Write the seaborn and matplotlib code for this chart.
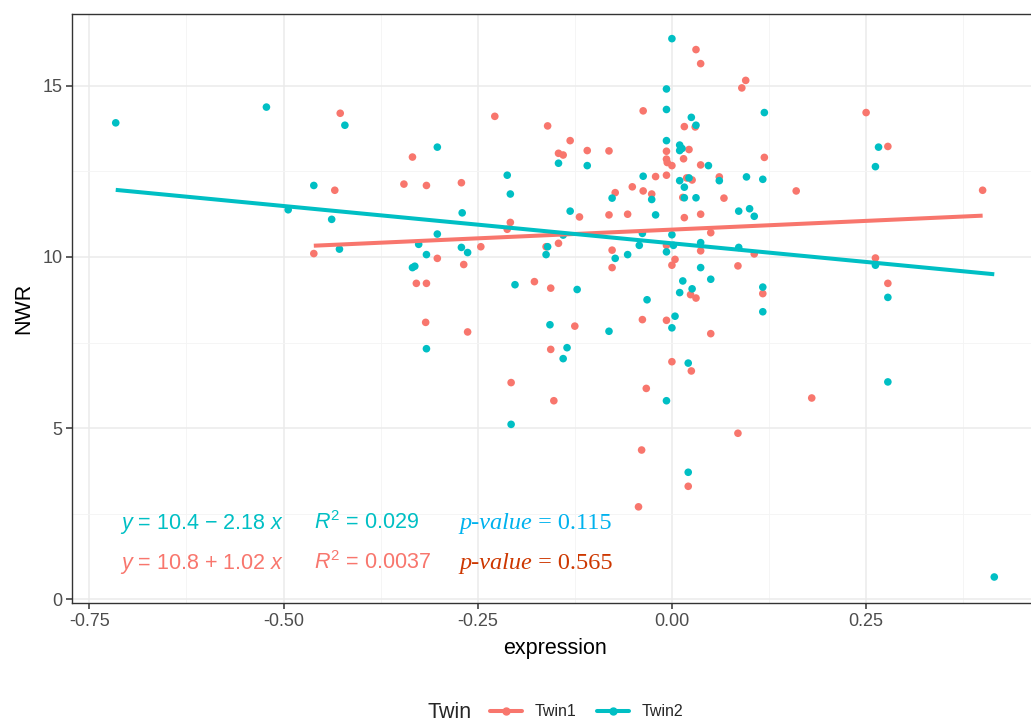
import matplotlib
matplotlib.use('Agg')
import matplotlib.pyplot as plt
from matplotlib.lines import Line2D
import pandas as pd
import seaborn as sns

# Twin1 (red) points
twin1_x = [-0.427, -0.434, -0.461, 0.031, 0.037, -0.037, -0.228, 0.016, 0.030, -0.160,
           -0.131, -0.334, -0.146, -0.140, -0.109, -0.081, -0.007, -0.007, -0.006, 0.000,
           0.022, 0.015, 0.037, -0.007, -0.345, -0.316, -0.271, -0.021, 0.019, 0.026,
           -0.073, -0.051, -0.037, -0.026, 0.014, -0.119, -0.081, -0.057, 0.016, 0.037,
           -0.208, -0.212, 0.050, -0.246, -0.162, -0.146, -0.302, -0.007, 0.037, -0.077,
           0.004, 0.000, -0.268, -0.077, -0.329, -0.316, -0.177, -0.156, 0.024, 0.031,
           0.095, 0.090, 0.250, 0.278, 0.119, 0.061, 0.160, 0.400, 0.067, 0.106,
           0.262, 0.085, 0.117, 0.278, -0.317, -0.263, -0.125, -0.038, -0.007, 0.050,
           -0.156, 0.000, 0.025, -0.207, -0.033, -0.152, -0.039, 0.021, -0.043, 0.085,
           0.180]
twin1_y = [14.20, 11.95, 10.10, 16.06, 15.65, 14.27, 14.11, 13.81, 13.80, 13.83,
           13.40, 12.92, 13.03, 12.98, 13.11, 13.10, 13.09, 12.86, 12.76, 12.67,
           13.14, 12.87, 12.69, 12.39, 12.13, 12.09, 12.17, 12.35, 12.31, 12.25,
           11.88, 12.05, 11.93, 11.84, 11.74, 11.17, 11.23, 11.25, 11.15, 11.25,
           11.01, 10.81, 10.71, 10.30, 10.30, 10.40, 9.96, 10.34, 10.18, 10.20,
           9.93, 9.76, 9.78, 9.69, 9.23, 9.23, 9.28, 9.09, 8.90, 8.80,
           15.16, 14.94, 14.22, 13.23, 12.91, 12.34, 11.93, 11.95, 11.72, 10.09,
           9.97, 9.74, 8.93, 9.23, 8.09, 7.81, 7.98, 8.17, 8.15, 7.76,
           7.30, 6.94, 6.67, 6.33, 6.16, 5.80, 4.36, 3.30, 2.70, 4.85,
           5.88]

# Twin2 (teal) points
twin2_x = [-0.716, -0.522, -0.421, -0.461, -0.494, -0.438, -0.428, 0.000, -0.007, -0.007,
           0.025, 0.031, -0.302, -0.146, -0.109, -0.007, 0.010, 0.013, 0.010, 0.047,
           -0.037, -0.212, -0.208, 0.010, 0.022, 0.016, -0.077, -0.026, 0.016, 0.031,
           -0.131, -0.270, -0.021, -0.302, -0.140, -0.038, 0.000, -0.326, -0.160, -0.271,
           -0.263, -0.316, -0.162, -0.042, 0.002, -0.007, 0.037, -0.073, -0.057, -0.331,
           -0.334, 0.037, 0.050, -0.202, -0.122, 0.014, 0.026, 0.010, -0.032, 0.119,
           0.266, 0.262, 0.061, 0.096, 0.117, 0.086, 0.100, 0.106, 0.086, 0.262,
           0.117, 0.278, 0.117, -0.316, -0.157, -0.081, 0.004, 0.000, -0.135, -0.140,
           0.021, -0.007, -0.207, 0.021, 0.278, 0.415]
twin2_y = [13.92, 14.38, 13.85, 12.09, 11.38, 11.10, 10.23, 16.38, 14.91, 14.31,
           14.08, 13.85, 13.21, 12.74, 12.67, 13.40, 13.27, 13.17, 13.11, 12.67,
           12.36, 12.39, 11.84, 12.23, 12.31, 12.04, 11.72, 11.68, 11.73, 11.73,
           11.34, 11.29, 11.23, 10.67, 10.64, 10.69, 10.65, 10.37, 10.30, 10.28,
           10.13, 10.07, 10.07, 10.34, 10.34, 10.15, 10.42, 9.96, 10.07, 9.73,
           9.69, 9.69, 9.35, 9.19, 9.05, 9.30, 9.07, 8.96, 8.75, 14.22,
           13.21, 12.64, 12.23, 12.34, 12.27, 11.34, 11.41, 11.19, 10.28, 9.76,
           9.12, 8.82, 8.40, 7.32, 8.02, 7.83, 8.27, 7.93, 7.35, 7.03,
           6.90, 5.80, 5.11, 3.71, 6.35, 0.65]

groups = ['Twin1', 'Twin2']
colors = ['#F8766D', '#00BFC4']
intercepts = [10.8, 10.4]
slopes = [1.02, -2.18]
eq_texts = ['$y$ = 10.8 + 1.02 $x$', '$y$ = 10.4 \u2212 2.18 $x$']
r2_texts = ['$R^2$ = 0.0037', '$R^2$ = 0.029']
p_values = ['0.565', '0.115']
p_colors = ['#CD3700', '#00B2EE']

x_ticks = [-0.75, -0.50, -0.25, 0.00, 0.25]
x_tick_labels = ['-0.75', '-0.50', '-0.25', '0.00', '0.25']
y_ticks = [0, 5, 10, 15]

df = pd.concat([
    pd.DataFrame({'expression': twin1_x, 'NWR': twin1_y, 'Twin': 'Twin1'}),
    pd.DataFrame({'expression': twin2_x, 'NWR': twin2_y, 'Twin': 'Twin2'}),
], ignore_index=True)

sns.set_theme(style='white')
plt.rcParams['font.family'] = ['Liberation Sans', 'DejaVu Sans']
plt.rcParams['mathtext.fontset'] = 'custom'
plt.rcParams['mathtext.rm'] = 'Liberation Sans'
plt.rcParams['mathtext.it'] = 'Liberation Sans:italic'
plt.rcParams['mathtext.bf'] = 'Liberation Sans:bold'

fig = plt.figure(figsize=(10.31, 7.24), dpi=100)
ax = fig.add_axes([72 / 1031, 1 - 603 / 724, (1037 - 72) / 1031, (603 - 14) / 724])

sns.scatterplot(data=df, x='expression', y='NWR', hue='Twin', hue_order=groups,
                palette=colors, s=30, linewidth=0, ax=ax, legend=False, zorder=3)

# fitted lines over each group's range
for g, c, b0, b1 in zip(groups, colors, intercepts, slopes):
    xs = df.loc[df['Twin'] == g, 'expression']
    lx = [xs.min(), xs.max()]
    ax.plot(lx, [b0 + b1 * v for v in lx], color=c, lw=2.9, zorder=4,
            solid_capstyle='butt')

ax.set_xlim(-0.7723, 0.470)
ax.set_ylim(-0.11, 17.1)
ax.set_xticks(x_ticks)
ax.set_xticklabels(x_tick_labels)
ax.set_yticks(y_ticks)
ax.set_xticks([-0.625, -0.375, -0.125, 0.125, 0.375], minor=True)
ax.set_yticks([2.5, 7.5, 12.5], minor=True)
ax.grid(True, which='major', color='#EBEBEB', lw=1.1, zorder=0)
ax.grid(True, which='minor', color='#F4F4F4', lw=0.6, zorder=0)
ax.set_axisbelow(True)
for s in ax.spines.values():
    s.set_color('#333333')
    s.set_linewidth(1.0)
ax.tick_params(axis='both', which='major', length=4, width=1.1, color='#333333',
               labelsize=13, labelcolor='#4D4D4D', pad=3, bottom=True, left=True)
ax.tick_params(axis='both', which='minor', length=0)
ax.set_xlabel('expression', fontsize=15.5, color='black', labelpad=6)
ax.set_ylabel('NWR', fontsize=15.5, color='black', labelpad=6)

# annotations
y_base = [0.88, 2.06]
for i in range(2):
    ax.text(-0.710, y_base[i], eq_texts[i], color=colors[i], fontsize=15.5, va='baseline')
    ax.text(-0.4604, y_base[i], r2_texts[i], color=colors[i], fontsize=15.5, va='baseline')

fig.canvas.draw()
renderer = fig.canvas.get_renderer()
for i in range(2):
    t = ax.text(-0.2738, y_base[i], 'p-value', color=p_colors[i], fontsize=17.5,
                family='Liberation Serif', style='italic', va='baseline')
    bb = t.get_window_extent(renderer)
    x_end = ax.transData.inverted().transform((bb.x1, 0))[0]
    ax.text(x_end, y_base[i], ' = ' + p_values[i], color=p_colors[i], fontsize=17.5,
            family='Liberation Serif', va='baseline')

# legend at the bottom
handles = [Line2D([], [], color=c, lw=2.9, marker='o', markersize=5) for c in colors]
fig.legend(handles, groups, loc='center', bbox_to_anchor=(0.569, 1 - 712 / 724),
           ncol=2, frameon=False, fontsize=11.5, handlelength=2.0,
           handletextpad=0.8, columnspacing=1.3)
fig.text(427 / 1031, 1 - 712 / 724, 'Twin', fontsize=15.5, va='center', ha='left')

fig.savefig('out.png', dpi=100)
